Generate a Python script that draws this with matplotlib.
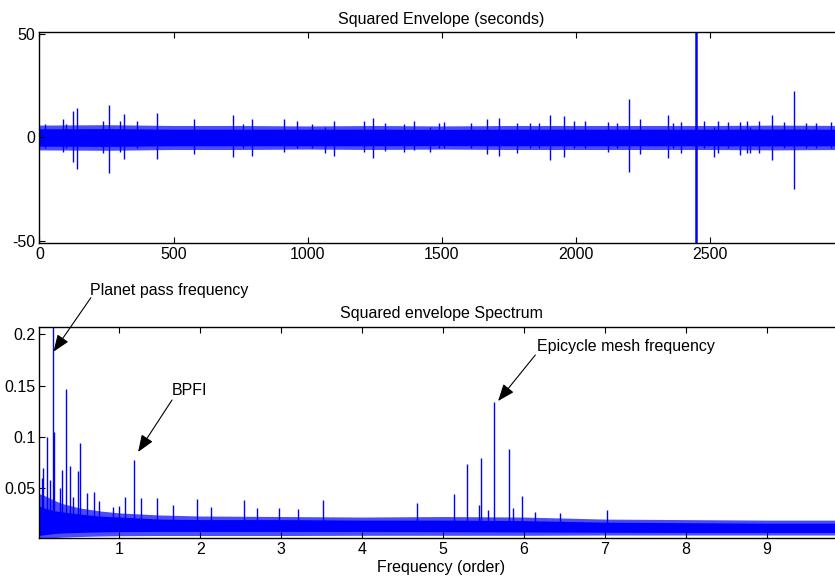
#!/usr/bin/env python3
"""
Squared envelope signal and its spectrum, MATLAB-style two-panel figure.
"""

import matplotlib
matplotlib.use("Agg")
import matplotlib.pyplot as plt

plt.rcParams["font.family"] = ["Liberation Sans", "DejaVu Sans"]
plt.rcParams["font.size"] = 11.5
plt.rcParams["axes.unicode_minus"] = False

BLUE = (0.0, 0.0, 1.0)
FS = 11.5

# top panel: noise band envelope (half-widths)
top_env_x = [0, 250, 500, 750, 1000, 1250, 1500, 1750, 2000, 2250, 2500, 2750, 3000]
top_core = [4.2, 4.3, 4.0, 4.0, 4.0, 4.0, 3.9, 4.0, 4.0, 4.0, 4.0, 4.1, 4.0]
top_outer = [6.0, 6.2, 5.8, 5.8, 5.6, 5.8, 5.6, 5.8, 5.8, 5.8, 5.8, 6.0, 5.8]

# top panel: individual spikes (time, upper value, lower value)
spike_t = [19, 86, 99, 124, 141, 238, 258, 300, 315, 363, 438, 575, 721,
           761, 794, 913, 960, 1016, 1065, 1100, 1211, 1243, 1289, 1360, 1398,
           1456, 1491, 1509, 1609, 1668, 1713, 1780, 1830, 1865, 1905, 1957,
           1995, 2035, 2120, 2155, 2201, 2241, 2344, 2365, 2393, 2449, 2481,
           2515, 2533, 2570, 2614, 2640, 2652, 2685, 2734, 2776, 2815, 2861,
           2898, 2952]
spike_hi = [6.4, 9.0, 6.5, 13.0, 14.4, 8.0, 15.7, 8.0, 11.2, 8.0, 12.0, 9.0, 11.0,
            6.5, 9.0, 9.0, 8.0, 6.5, 5.0, 8.0, 8.0, 9.5, 7.0, 6.5, 8.0,
            5.0, 7.0, 7.5, 6.9, 9.0, 9.5, 6.9, 6.9, 7.0, 11.0, 10.5,
            8.0, 8.0, 7.5, 6.9, 18.5, 9.0, 10.7, 6.9, 7.6, 52.0, 8.0,
            5.0, 8.0, 7.6, 7.6, 8.0, 5.0, 8.0, 10.7, 7.6, 22.5, 6.9,
            6.9, 7.6]
spike_lo = [-5.0, -7.0, -5.0, -11.7, -15.4, -7.5, -17.3, -7.0, -10.6, -5.0, -10.6, -8.0, -9.6,
            -5.0, -9.0, -7.0, -5.0, -5.0, -7.5, -9.0, -7.0, -10.0, -6.5, -7.0, -6.0,
            -7.0, -5.0, -5.0, -5.0, -8.0, -9.0, -7.5, -5.0, -5.0, -10.8, -9.5,
            -5.0, -5.0, -7.0, -5.0, -16.5, -8.0, -10.0, -5.0, -7.6, -52.0, -5.0,
            -9.3, -7.5, -5.0, -8.5, -7.6, -7.6, -7.6, -11.0, -5.0, -25.0, -5.0,
            -5.0, -5.0]

# bottom panel: spectrum noise floor envelope
spec_env_x = [0.0, 0.1, 0.2, 0.3, 0.5, 0.75, 1.0, 1.5, 2.0, 3.0, 4.0, 5.0, 6.0, 7.0, 8.0, 9.0, 10.0]
spec_core_hi = [0.033, 0.030, 0.028, 0.027, 0.025, 0.023, 0.022, 0.020, 0.0195, 0.0195,
                0.019, 0.019, 0.0185, 0.017, 0.0165, 0.016, 0.016]
spec_core_lo = [0.004, 0.005, 0.006, 0.0065, 0.007, 0.0075, 0.0078, 0.008, 0.008, 0.008,
                0.008, 0.0078, 0.0075, 0.0072, 0.007, 0.007, 0.007]
spec_outer_hi = [0.045, 0.042, 0.038, 0.035, 0.031, 0.028, 0.026, 0.024, 0.023, 0.0225,
                 0.022, 0.0225, 0.022, 0.020, 0.0195, 0.019, 0.019]
spec_outer_lo = [0.0015, 0.0018, 0.002, 0.0025, 0.003, 0.0035, 0.0038, 0.004, 0.004, 0.004,
                 0.0042, 0.0042, 0.0042, 0.0045, 0.0045, 0.0045, 0.0045]

# bottom panel: spectral lines (order, amplitude)
peak_f = [0.037, 0.058, 0.107, 0.148, 0.18, 0.19, 0.268, 0.296, 0.342, 0.39, 0.43,
          0.49, 0.51, 0.605, 0.69, 0.745, 0.92, 0.996, 1.07, 1.178, 1.264, 1.46,
          1.663, 1.963, 2.136, 2.54, 2.70, 2.975, 3.21, 3.52, 4.68, 5.14, 5.30,
          5.45, 5.47, 5.55, 5.63, 5.82, 5.86, 5.98, 6.14, 6.45, 7.03]
peak_a = [0.060, 0.0695, 0.100, 0.058, 0.25, 0.105, 0.050, 0.068, 0.1466, 0.0717, 0.042,
          0.0665, 0.094, 0.045, 0.0467, 0.038, 0.032, 0.0326, 0.042, 0.0776, 0.0403, 0.041,
          0.0338, 0.0394, 0.0316, 0.039, 0.031, 0.0306, 0.030, 0.039, 0.0355, 0.0445, 0.0735,
          0.034, 0.0793, 0.029, 0.1344, 0.088, 0.031, 0.0425, 0.0273, 0.026, 0.029]

fig = plt.figure(figsize=(8.35, 5.82), dpi=100)
ax1 = fig.add_axes([0.0473, 0.5825, 0.963, 0.3625])
ax2 = fig.add_axes([0.0473, 0.0751, 0.963, 0.3636])

# top panel
ax1.fill_between(top_env_x, [-v for v in top_outer], top_outer, color=BLUE, alpha=0.7, lw=0)
ax1.fill_between(top_env_x, [-v for v in top_core], top_core, color=BLUE, lw=0)
widths = [1.8 if abs(h) > 40 else 1.0 for h in spike_hi]
ax1.vlines(spike_t, spike_lo, spike_hi, color=BLUE, linewidths=widths)
ax1.set_xlim(0, 3000)
ax1.set_ylim(-51, 51)
ax1.set_xticks([0, 500, 1000, 1500, 2000, 2500])
ax1.set_yticks([-50, 0, 50])
ax1.set_title("Squared Envelope (seconds)", fontsize=FS, pad=6)

# bottom panel
ax2.fill_between(spec_env_x, spec_outer_lo, spec_outer_hi, color=BLUE, alpha=0.7, lw=0)
ax2.fill_between(spec_env_x, spec_core_lo, spec_core_hi, color=BLUE, lw=0)
ax2.vlines(peak_f, 0.008, peak_a, color=BLUE, linewidths=1.0)
ax2.set_xlim(0.012, 9.95)
ax2.set_ylim(0.0013, 0.2074)
ax2.set_xticks(range(1, 10))
ax2.set_yticks([0.05, 0.1, 0.15, 0.2])
ax2.set_yticklabels(["0.05", "0.1", "0.15", "0.2"])
ax2.set_xlabel("Frequency (order)", fontsize=FS, labelpad=2)
ax2.set_title("Squared envelope Spectrum", fontsize=FS, pad=6)

for ax in (ax1, ax2):
    ax.tick_params(direction="in", top=True, right=True, length=4, labelsize=FS, pad=3)
    for sp in ax.spines.values():
        sp.set_linewidth(1.0)

# annotations
arrow = dict(arrowstyle="-|>,head_length=0.9,head_width=0.35", color="k", lw=0.8,
             shrinkA=0, shrinkB=0)
ax2.text(0.64, 0.243, "Planet pass frequency", fontsize=FS, va="center", ha="left")
ax2.annotate("", xy=(0.185, 0.183), xytext=(0.647, 0.2356), arrowprops=arrow,
             annotation_clip=False)
ax2.text(1.65, 0.1448, "BPFI", fontsize=FS, va="center", ha="left")
ax2.annotate("", xy=(1.231, 0.0854), xytext=(1.65, 0.136), arrowprops=arrow)
ax2.text(6.165, 0.1879, "Epicycle mesh frequency", fontsize=FS, va="center", ha="left")
ax2.annotate("", xy=(5.68, 0.135), xytext=(6.14, 0.1798), arrowprops=arrow)

fig.savefig("out.png", dpi=100)
